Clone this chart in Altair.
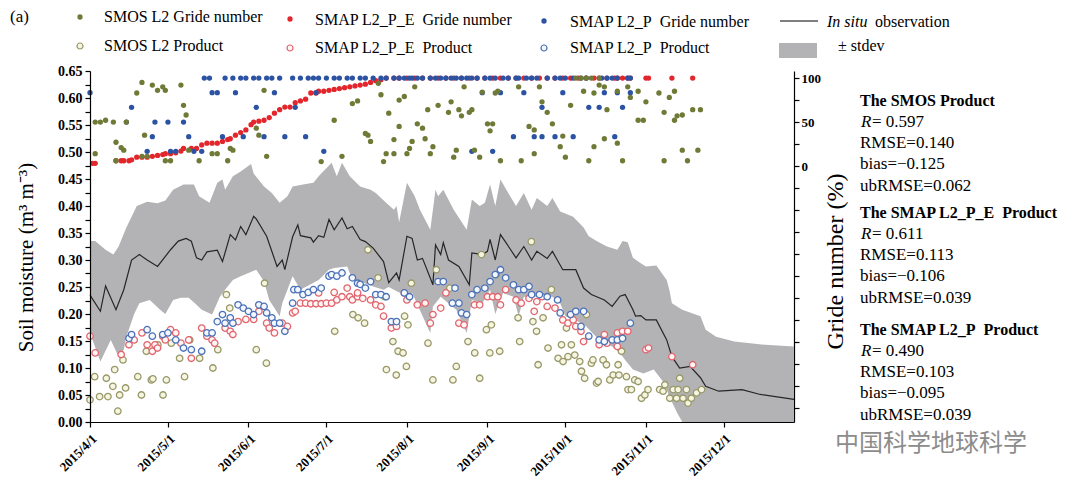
import altair as alt
import pandas as pd

SERIF = "Liberation Serif"
START = pd.Timestamp("2015-04-01")

# ---------------- data (days since 2015-04-01) ----------------
insitu_day = [0, 4, 6, 10, 13, 16, 19, 22, 26, 31, 34, 37, 39, 41, 43, 45, 49, 51, 54, 56, 58, 60, 63, 64,
              68, 72, 74, 75, 78, 80, 81, 85, 86, 88, 90, 92, 94, 97, 99, 101, 104, 106, 109, 113, 115,
              118, 119, 122, 124, 126, 128, 132, 133, 135, 136, 138, 142, 146, 147, 151, 153, 154, 156,
              158, 160, 164, 167, 170, 172, 176, 178, 182, 187, 190, 193, 198, 201, 204, 206, 209, 210,
              212, 214, 218, 222, 224, 227, 231, 235, 237, 242, 251, 258, 271]
insitu_val = [0.235, 0.205, 0.252, 0.208, 0.245, 0.300, 0.310, 0.300, 0.288, 0.319, 0.335, 0.340, 0.335,
              0.304, 0.300, 0.315, 0.318, 0.297, 0.347, 0.337, 0.362, 0.347, 0.381, 0.376, 0.344, 0.288,
              0.300, 0.282, 0.343, 0.365, 0.345, 0.341, 0.333, 0.345, 0.342, 0.375, 0.356, 0.378, 0.358,
              0.362, 0.338, 0.334, 0.322, 0.297, 0.258, 0.276, 0.263, 0.344, 0.340, 0.300, 0.303, 0.254,
              0.328, 0.310, 0.332, 0.300, 0.288, 0.254, 0.313, 0.310, 0.316, 0.338, 0.300, 0.347, 0.333,
              0.304, 0.325, 0.300, 0.316, 0.303, 0.316, 0.282, 0.282, 0.248, 0.236, 0.226, 0.214, 0.233,
              0.236, 0.208, 0.196, 0.197, 0.189, 0.189, 0.152, 0.121, 0.100, 0.103, 0.082, 0.066, 0.057,
              0.060, 0.051, 0.042]

upper_day = [0, 2, 6, 9, 11, 14, 18, 22, 26, 29, 32, 36, 40, 42, 46, 49, 51, 52, 55, 58, 62, 63, 67, 70,
             73, 76, 78, 82, 86, 88, 93, 95, 97, 100, 104, 108, 110, 114, 117, 118, 119, 122, 125, 127,
             131, 133, 134, 136, 140, 145, 147, 150, 152, 154, 156, 158, 161, 164, 167, 170, 172, 176,
             178, 181, 186, 187, 190, 192, 195, 199, 203, 205, 207, 209, 212, 214, 218, 222, 223, 224,
             228, 235, 237, 241, 248, 260, 271]
upper_val = [0.335, 0.335, 0.319, 0.310, 0.325, 0.360, 0.400, 0.408, 0.405, 0.410, 0.430, 0.440, 0.440,
             0.418, 0.406, 0.443, 0.449, 0.430, 0.455, 0.464, 0.478, 0.460, 0.436, 0.424, 0.406, 0.418,
             0.436, 0.440, 0.443, 0.455, 0.480, 0.455, 0.480, 0.455, 0.436, 0.430, 0.424, 0.406, 0.393,
             0.400, 0.370, 0.443, 0.418, 0.393, 0.356, 0.430, 0.418, 0.430, 0.393, 0.356, 0.412, 0.400,
             0.406, 0.440, 0.400, 0.449, 0.424, 0.400, 0.424, 0.393, 0.415, 0.400, 0.415, 0.390, 0.380,
             0.375, 0.360, 0.344, 0.335, 0.325, 0.319, 0.335, 0.333, 0.304, 0.294, 0.288, 0.290, 0.263,
             0.245, 0.220, 0.208, 0.196, 0.171, 0.158, 0.149, 0.143, 0.140]

lower_day = [0, 4, 8, 11, 13, 14, 17, 19, 23, 27, 29, 32, 35, 38, 41, 43, 47, 50, 52, 55, 58, 61, 64, 67,
             69, 73, 74, 76, 78, 81, 88, 92, 94, 99, 101, 104, 109, 113, 115, 119, 124, 131, 132, 135,
             138, 141, 145, 147, 151, 154, 156, 159, 163, 165, 167, 174, 178, 181, 183, 187, 191, 196,
             201, 204, 206, 209, 213, 217, 221, 223, 226, 228, 271]
lower_val = [0.165, 0.112, 0.152, 0.121, 0.134, 0.158, 0.200, 0.220, 0.226, 0.208, 0.200, 0.226, 0.230,
             0.230, 0.217, 0.208, 0.199, 0.232, 0.245, 0.263, 0.270, 0.276, 0.282, 0.260, 0.226, 0.196,
             0.220, 0.245, 0.270, 0.245, 0.263, 0.282, 0.285, 0.288, 0.263, 0.260, 0.251, 0.245, 0.250,
             0.240, 0.239, 0.165, 0.214, 0.232, 0.220, 0.208, 0.165, 0.226, 0.220, 0.245, 0.200, 0.239,
             0.232, 0.196, 0.232, 0.232, 0.232, 0.220, 0.196, 0.189, 0.177, 0.152, 0.140, 0.128, 0.115,
             0.097, 0.090, 0.097, 0.072, 0.047, 0.017, 0.000, 0.000]

smos_prod_day = [0, 1.8, 3.7, 6.3, 6.9, 8.8, 9.5, 10.7, 11.4, 12.7, 13.7, 18.4, 19.8, 21.7, 23.6, 24.2,
                 26.1, 28.1, 29.4, 31.3, 34.5, 36.4, 38.4, 42.2, 47.3, 49.2, 52.5, 53.8, 64, 67.2, 67.9,
                 94.2, 101.2, 103.2, 105.7, 107, 110.9, 113.5, 114.1, 116.6, 117.9, 118.6, 120.5, 121.1,
                 121.8, 122.4, 123.7, 130.1, 132, 133.3, 138.5, 139.7, 141, 145.5, 148.1, 150, 150.7,
                 152.6, 153.9, 154.5, 156.4, 157.7, 164.8, 165.4, 169.9, 170.5, 171.9, 172.5, 174.4,
                 176.3, 177.6, 180.2, 181.5, 182.1, 183.4, 184, 185.3, 186.6, 188.5, 189.2, 190.4, 191.1,
                 193, 193.6, 195, 195.6, 197.5, 198.8, 200.1, 201.4, 203.3, 203.6, 204.6, 206.5, 207.1,
                 208.4, 209.7, 211, 212.3, 213.6, 214.8, 219.3, 220.6, 221.3, 223.2, 224.5, 225.8, 226.4,
                 227, 228.3, 229.6, 230.2, 231.5, 233.5, 235.4]
smos_prod_val = [0.041, 0.084, 0.047, 0.081, 0.047, 0.066, 0.097, 0.020, 0.050, 0.115, 0.063, 0.084, 0.050,
                 0.131, 0.078, 0.080, 0.143, 0.050, 0.078, 0.146, 0.118, 0.084, 0.152, 0.118, 0.100, 0.134,
                 0.236, 0.211, 0.134, 0.257, 0.109, 0.168, 0.199, 0.193, 0.183, 0.319, 0.267, 0.232, 0.097,
                 0.149, 0.087, 0.131, 0.128, 0.196, 0.103, 0.180, 0.257, 0.146, 0.078, 0.282, 0.248, 0.078,
                 0.103, 0.149, 0.128, 0.081, 0.310, 0.171, 0.128, 0.180, 0.273, 0.131, 0.193, 0.149, 0.334,
                 0.186, 0.168, 0.106, 0.193, 0.137, 0.245, 0.118, 0.143, 0.112, 0.174, 0.121, 0.143, 0.124,
                 0.112, 0.094, 0.081, 0.199, 0.109, 0.115, 0.072, 0.075, 0.115, 0.106, 0.078, 0.087, 0.106,
                 0.087, 0.131, 0.084, 0.060, 0.060, 0.078, 0.075, 0.044, 0.050, 0.060, 0.060, 0.057, 0.069,
                 0.044, 0.060, 0.044, 0.060, 0.081, 0.044, 0.060, 0.035, 0.044, 0.054, 0.060]

e_prod_day = [0, 2, 12, 15, 17, 20, 22, 24, 25, 26, 28, 29, 31, 33, 35, 38, 39, 43, 45, 47, 48, 52, 54, 55,
              57, 60, 63, 65, 68, 69, 71, 74, 76, 78, 79, 81, 83, 85, 87, 89, 91, 93, 95, 97, 100, 101,
              103, 105, 108, 110, 112, 113, 116, 118, 88, 94, 99, 103, 121, 122, 126, 129, 131, 132, 135,
              137, 142, 144, 148, 150, 153, 155, 157, 158, 160, 164, 166, 169, 171, 172, 174, 176, 179,
              182, 184, 186, 187, 189, 190, 196, 198, 199, 203, 203, 205, 207, 214, 215, 224, 232]
e_prod_val = [0.159, 0.128, 0.125, 0.143, 0.152, 0.165, 0.143, 0.131, 0.143, 0.137, 0.159, 0.152, 0.171,
              0.165, 0.146, 0.152, 0.118, 0.174, 0.159, 0.152, 0.146, 0.174, 0.168, 0.162, 0.186, 0.190,
              0.190, 0.205, 0.183, 0.174, 0.165, 0.183, 0.177, 0.202, 0.205, 0.220, 0.220, 0.219, 0.219,
              0.219, 0.220, 0.220, 0.226, 0.232, 0.232, 0.226, 0.232, 0.229, 0.226, 0.217, 0.214, 0.196,
              0.174, 0.177, 0.239, 0.240, 0.248, 0.239, 0.239, 0.226, 0.217, 0.220, 0.183, 0.199, 0.211,
              0.239, 0.183, 0.180, 0.217, 0.217, 0.232, 0.232, 0.232, 0.217, 0.245, 0.226, 0.220, 0.229,
              0.205, 0.223, 0.232, 0.214, 0.211, 0.189, 0.183, 0.189, 0.177, 0.168, 0.149, 0.143, 0.162,
              0.146, 0.165, 0.140, 0.168, 0.168, 0.134, 0.137, 0.121, 0.106]

p_prod_day = [15, 16, 22, 24, 28, 30, 33, 36, 39, 43, 45, 47, 49, 51, 52, 54, 55, 57, 59, 61, 63, 65, 67,
              68, 70, 71, 73, 75, 78, 78.5, 80, 82, 84, 86, 89, 92, 93, 95, 97, 101, 103, 104, 106, 108,
              110, 112, 114, 116, 118, 121, 123, 134, 136, 139.5, 140.5, 142, 143, 145, 147, 149, 152,
              154, 156, 158, 160, 163, 165, 167, 169, 170, 173, 176, 180, 181, 185, 187, 189, 190, 192,
              196, 198, 201, 203, 205, 208]
p_prod_val = [0.155, 0.162, 0.171, 0.159, 0.162, 0.165, 0.152, 0.137, 0.134, 0.131, 0.165, 0.165, 0.186,
              0.199, 0.183, 0.193, 0.183, 0.217, 0.211, 0.205, 0.199, 0.217, 0.214, 0.202, 0.193, 0.183,
              0.183, 0.168, 0.220, 0.245, 0.245, 0.236, 0.240, 0.245, 0.248, 0.270, 0.273, 0.270, 0.276,
              0.267, 0.257, 0.255, 0.248, 0.260, 0.236, 0.236, 0.232, 0.186, 0.186, 0.239, 0.232, 0.260,
              0.260, 0.220, 0.248, 0.220, 0.202, 0.199, 0.236, 0.245, 0.248, 0.260, 0.273, 0.282, 0.267,
              0.254, 0.245, 0.245, 0.251, 0.236, 0.236, 0.232, 0.226, 0.202, 0.199, 0.205, 0.177, 0.205,
              0.159, 0.152, 0.149, 0.152, 0.152, 0.155, 0.183]

red_grid_day = [1, 2, 10, 12, 13, 15, 16, 18, 20, 22, 24, 26, 28, 29, 31, 33, 35, 36, 39, 41, 43, 45, 47,
                49, 51, 53, 54, 56, 58, 60, 62, 63, 65, 67, 69, 71, 73, 75, 77, 79, 81, 83, 85, 87, 88, 90,
                92, 94, 96, 98, 100, 102, 104, 106, 108, 110, 112, 114, 117, 119, 122, 125, 128, 131, 134,
                137, 140, 143, 146, 149, 152, 155, 158, 161, 164, 167, 170, 173, 176, 179, 182, 185, 188,
                191, 194, 196, 199, 202, 203, 205, 207, 208, 214, 215, 224, 232]
red_grid_val = [3, 3, 6, 6, 6, 6, 7, 10, 10, 10, 11, 12, 13, 14, 14, 15, 17, 20, 20, 20, 24, 26, 26, 26,
                28, 30, 31, 35, 38, 41, 47, 50, 51, 52, 55, 60, 64, 67, 67, 72, 74, 76, 83, 83, 85, 85, 86,
                87, 88, 89, 90, 91, 92, 93, 95, 97, 98, 100, 100, 100, 100, 100, 100, 100, 100, 100, 100,
                100, 100, 100, 100, 100, 100, 100, 100, 100, 100, 100, 100, 100, 100, 100, 100, 100, 100,
                100, 100, 100, 100, 100, 100, 100, 100, 100, 100, 100]

blue_grid_day = [0, 14, 16, 22, 24, 25, 30, 31, 33, 36, 38, 40, 43, 44, 46, 47, 49, 51, 52, 55, 56, 58, 59,
                 60, 63, 64, 65, 67, 68, 70, 71, 73, 75, 78, 79, 81, 83, 84, 86, 87, 88, 90, 91, 94, 96,
                 99, 101, 104, 106, 109, 112, 114, 117, 119, 121, 123, 124, 126, 128, 131, 133, 135, 137,
                 139, 141, 143, 145, 147, 149, 152, 154, 156, 159, 161, 164, 165, 168, 170, 172, 176, 179,
                 181, 183, 186, 189, 191, 197, 199, 201, 203, 207, 208, 151, 158, 167, 182, 198, 203, 208,
                 174, 192, 196, 205, 163, 171, 174, 179, 186, 202, 155, 147]
blue_grid_val = [83.3, 50, 66.7, 16.7, 33.3, 50, 50, 16.7, 16.7, 50, 33.3, 16.7, 16.7, 100, 100, 83.3,
                 83.3, 33.3, 100, 100, 83.3, 100, 33.3, 100, 100, 66.7, 100, 33.3, 100, 100, 83.3, 100,
                 33.3, 100, 66.7, 100, 33.3, 100, 100, 83.3, 100, 16.7, 100, 100, 100, 100, 100, 100, 100,
                 100, 100, 100, 100, 100, 100, 100, 100, 100, 100, 100, 100, 100, 100, 100, 100, 100, 100,
                 100, 100, 100, 100, 100, 100, 100, 100, 100, 100, 100, 100, 100, 100, 100, 100, 100, 100,
                 100, 100, 100, 100, 100, 100, 100, 83.3, 83.3, 83.3, 83.3, 83.3, 83.3, 83.3, 66.7, 66.7,
                 66.7, 66.7, 33.3, 33.3, 33.3, 33.3, 33.3, 33.3, 16.7, 16.7]

smos_grid_day = [2, 4, 6, 9, 2, 10, 12, 13, 10, 14, 18, 20, 22, 21, 20, 24, 26, 28, 29, 29, 31, 35, 36, 37,
                 38, 42, 47, 49, 53, 54, 55, 64, 65, 68, 67, 89, 94, 97, 101, 103, 106, 107, 108, 111, 112,
                 113, 114, 115, 117, 117, 119, 119, 121, 122, 123, 124, 125, 126, 128, 129, 130, 131, 132,
                 134, 138, 139, 140, 141, 142, 143, 144, 146, 147, 148, 150, 151, 153, 154, 155, 156, 157,
                 158, 165, 166, 169, 171, 171, 173, 174, 176, 178, 181, 182, 183, 185, 187, 189, 190, 191,
                 192, 193, 194, 194, 196, 196, 198, 198, 199, 203, 203, 205, 207, 208, 211, 211, 213, 214,
                 219, 221, 221, 223, 225, 225, 226, 228, 228, 230, 232, 234, 235]
smos_grid_val = [50, 50, 52, 50, 14, 27, 21, 18, 6, 50, 83, 11, 11, 35, 95, 92, 86, 90, 86, 6, 6, 92, 69,
                 58, 18, 6, 14, 14, 6, 20, 18, 43, 35, 11, 86, 5, 52, 11, 71, 74, 37, 35, 28, 94, 81, 5, 14,
                 60, 30, 14, 45, 75, 79, 14, 20, 28, 90, 48, 43, 31, 64, 14, 22, 69, 61, 73, 10, 18, 64,
                 57, 90, 61, 64, 18, 10, 84, 48, 40, 48, 83, 85, 6, 90, 6, 45, 41, 14, 90, 73, 61, 48, 22,
                 34, 10, 69, 100, 100, 85, 100, 6, 100, 83, 22, 92, 100, 90, 31, 64, 85, 26, 6, 90, 78, 52,
                 85, 52, 73, 83, 61, 6, 78, 52, 85, 57, 18, 58, 6, 64, 18, 64]

month_ticks = [4, 5, 6, 7, 8, 9, 10, 11, 12]

NB = "\u00a0"
legend_entries = ["SMOS L2 Gride number", "SMOS L2 Product",
                  "SMAP L2_P_E" + NB + NB + "Gride number", "SMAP L2_P_E" + NB + NB + "Product",
                  "SMAP L2_P" + NB + NB + "Gride number", "SMAP L2_P" + NB + NB + "Product"]

stat_headers = ["The SMOS Product", "The SMAP L2_P_E" + NB + NB + "Product",
                "The SMAP L2_P" + NB + NB + "Product"]
stat_r = ["= 0.597", "= 0.611", "= 0.490"]
stat_rmse = ["RMSE=0.140", "RMSE=0.113", "RMSE=0.103"]
stat_bias = ["bias=\u22120.125", "bias=\u22120.106", "bias=\u22120.095"]
stat_ub = ["ubRMSE=0.062", "ubRMSE=0.039", "ubRMSE=0.039"]

# ---------------- colours ----------------
C_OLIVE = "#6f7a36"
C_RED = "#e2262c"
C_BLUE = "#2c53a3"
C_BAND = "#b3b3b6"


def frame(days, vals, col="v"):
    return pd.DataFrame({"date": START + pd.to_timedelta(pd.Series(days, dtype=float), unit="D"),
                         col: vals})


x_enc = alt.X(
    "date:T",
    title=None,
    scale=alt.Scale(domain=[alt.DateTime(year=2015, month=4, date=1),
                            alt.DateTime(year=2015, month=12, date=28)]),
    axis=alt.Axis(values=[alt.DateTime(year=2015, month=m, date=1) for m in month_ticks],
                  format="%Y/%-m/%-d", labelAngle=-45, labelFontSize=13, tickSize=5,
                  labelPadding=5, zindex=1, grid=False),
)

left_ticks = [round(0.025 * i, 3) for i in range(27)]
y_m = alt.Y(
    "v:Q",
    title="Soil moisture (m\u00b3 m\u207b\u00b3)",
    scale=alt.Scale(domain=[0, 0.65], nice=False),
    axis=alt.Axis(values=left_ticks, format=".2f",
                  labelExpr="(round(datum.value * 1000) % 50 == 0) ? datum.label : ''",
                  tickSize=5, labelFontSize=14, titleFontSize=21, titleX=-54, titleY=186,
                  labelPadding=3, zindex=1, grid=False),
)

y_g = alt.Y(
    "g:Q",
    title="Gride number (%)",
    scale=alt.Scale(domain=[-291, 108], nice=False, zero=False),
    axis=alt.Axis(orient="right", values=list(range(-275, 101, 25)),
                  labelExpr="(datum.value >= 0 && datum.value % 50 == 0) ? datum.label : ''",
                  tickSize=5, labelFontSize=13, titleFontSize=24, titleAngle=270,
                  titleBaseline="top", titleX=29, titleY=190, labelPadding=2, grid=False),
)

band_up = alt.Chart(frame(upper_day, upper_val)).mark_area(color=C_BAND).encode(x=x_enc, y=y_m)
band_low = alt.Chart(frame(lower_day, lower_val)).mark_area(color="white").encode(x=x_enc, y=y_m)
line = alt.Chart(frame(insitu_day, insitu_val)).mark_line(color="#262626", strokeWidth=1.2).encode(x=x_enc, y=y_m)


def rings(days, vals, stroke, fill):
    return alt.Chart(frame(days, vals)).mark_point(
        shape="circle", filled=True, fill=fill, stroke=stroke, strokeWidth=1.3,
        size=42, opacity=1, fillOpacity=1, strokeOpacity=1).encode(x=x_enc, y=y_m)


smos_prod = rings(smos_prod_day, smos_prod_val, "#989868", "#f6f5e2")
e_prod = rings(e_prod_day, e_prod_val, "#e2656e", "#fff6f6")
p_prod = rings(p_prod_day, p_prod_val, "#4b71b8", "#f4f7fc")


def dots(days, vals, color):
    return alt.Chart(frame(days, vals, "g")).mark_circle(color=color, size=28, opacity=1).encode(x=x_enc, y=y_g)


red_g = dots(red_grid_day, red_grid_val, C_RED)
blue_g = dots(blue_grid_day, blue_grid_val, C_BLUE)
olive_g = dots(smos_grid_day, smos_grid_val, C_OLIVE)

moist = alt.layer(band_up, band_low, line, smos_prod, e_prod, p_prod)
grid = alt.layer(red_g, blue_g, olive_g)

ONE = alt.Data(values=[{"k": 0}])


def label(s, x, y, size=16, weight="normal", style="normal", color="black", font=SERIF):
    return alt.Chart(ONE).mark_text(align="left", baseline="middle", font=font, fontSize=size,
                                    fontWeight=weight, fontStyle=style, color=color).encode(
        x=alt.value(x), y=alt.value(y), text=alt.value(s))


def key_dot(x, y, color):
    return alt.Chart(ONE).mark_circle(color=color, size=28, opacity=1).encode(x=alt.value(x), y=alt.value(y))


def key_ring(x, y, stroke, fill):
    return alt.Chart(ONE).mark_point(shape="circle", filled=True, fill=fill, stroke=stroke,
                                     strokeWidth=1.2, size=36, opacity=1).encode(x=alt.value(x), y=alt.value(y))


ann = [
    label("(a)", -80, -54, size=17),
    key_dot(-10, -54, C_OLIVE), label(legend_entries[0], 14, -54),
    key_ring(-10, -25, "#989868", "#f6f5e2"), label(legend_entries[1], 14, -25),
    key_dot(200, -52, C_RED), label(legend_entries[2], 225, -51),
    key_ring(200, -23, "#e2656e", "#fff6f6"), label(legend_entries[3], 225, -23),
    key_dot(454, -50, C_BLUE), label(legend_entries[4], 480, -49),
    key_ring(454, -23, "#4b71b8", "#f4f7fc"), label(legend_entries[5], 480, -23),
    alt.Chart(ONE).mark_rule(color="black", strokeWidth=1.2).encode(
        x=alt.value(690), x2=alt.value(728), y=alt.value(-50)),
    label("In situ", 737, -49, style="italic"), label("observation", 785, -49),
    alt.Chart(ONE).mark_rect(color=C_BAND).encode(
        x=alt.value(689), x2=alt.value(727), y=alt.value(-28), y2=alt.value(-13)),
    label("\u00b1 stdev", 748, -25),
]

block_tops = [30, 142, 259]
for i in range(3):
    t = block_tops[i]
    ann += [
        label(stat_headers[i], 770, t, size=16, weight="bold"),
        label("R", 771, t + 21, size=17, style="italic"),
        label(stat_r[i], 782, t + 21, size=17),
        label(stat_rmse[i], 770, t + 42, size=17),
        label(stat_bias[i], 770, t + 63, size=17),
        label(stat_ub[i], 770, t + 85, size=17),
    ]

ann.append(label("\u4e2d\u56fd\u79d1\u5b66\u5730\u7403\u79d1\u5b66", 745, 373, size=24,
                 color="#8c8c8c", font="Noto Sans CJK SC"))

chart = alt.layer(moist, grid, *ann).resolve_scale(y="independent").properties(
    width=704, height=351,
    padding={"left": 82, "top": 63, "right": 278, "bottom": 60},
    autosize=alt.AutoSizeParams(type="none"),
).configure_view(stroke=None).configure_axis(
    labelFont=SERIF, titleFont=SERIF, labelFontWeight="bold", labelColor="black",
    titleColor="black", titleFontWeight="normal", domainColor="black", tickColor="black",
    domainWidth=1.2, tickWidth=1.2,
)

chart.save("out.html", embed_options={"renderer": "svg", "actions": False})
